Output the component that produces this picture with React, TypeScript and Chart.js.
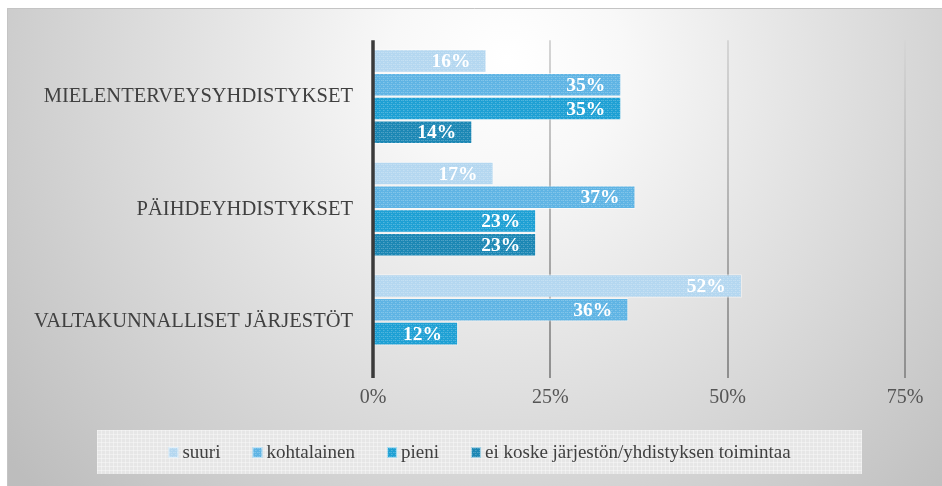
import React, { useEffect, useRef } from "react";
import { Chart, registerables } from "chart.js";
Chart.register(...registerables);

const categories = ["MIELENTERVEYSYHDISTYKSET", "PÄIHDEYHDISTYKSET", "VALTAKUNNALLISET JÄRJESTÖT"];
const seriesNames = ["suuri", "kohtalainen", "pieni", "ei koske järjestön/yhdistyksen toimintaa"];
const suuri = [16, 17, 52];
const kohtalainen = [35, 37, 36];
const pieni = [35, 23, 12];
const eiKoske: (number | null)[] = [14, 23, null];
const xTicks = [0, 25, 50, 75];
const colors = ["#b4d7f0", "#5fb4e4", "#1ea0d4", "#1c87b4"];

const SERIF = "'Liberation Serif', 'Times New Roman', serif";

function hexToRgb(h: string) {
  const n = parseInt(h.slice(1), 16);
  return [(n >> 16) & 255, (n >> 8) & 255, n & 255];
}

function makePattern(base: string): CanvasPattern | string {
  const c = document.createElement("canvas");
  c.width = 4;
  c.height = 4;
  const g = c.getContext("2d");
  if (!g) return base;
  g.fillStyle = base;
  g.fillRect(0, 0, 4, 4);
  const [r, gg, b] = hexToRgb(base);
  const mix = (t: number) =>
    `rgb(${Math.round(r + (255 - r) * t)},${Math.round(gg + (255 - gg) * t)},${Math.round(b + (255 - b) * t)})`;
  g.fillStyle = mix(0.22);
  g.fillRect(0, 0, 1, 1);
  g.fillRect(2, 0, 1, 1);
  g.fillRect(0, 2, 1, 1);
  g.fillStyle = mix(0.12);
  g.fillRect(1, 2, 1, 1);
  g.fillRect(3, 0, 1, 1);
  const p = g.createPattern(c, "repeat");
  return p || base;
}

export default function App() {
  const ref = useRef<HTMLCanvasElement | null>(null);

  useEffect(() => {
    const canvas = ref.current;
    if (!canvas) return;
    const patterns = colors.map((c) => makePattern(c));
    const seriesData = [suuri, kohtalainen, pieni, eiKoske];

    const bgPlugin = {
      id: "bg",
      beforeDraw(chart: any) {
        const { ctx, width, height } = chart;
        ctx.save();
        const grad = ctx.createRadialGradient(500, 50, 0, 500, 50, 640);
        grad.addColorStop(0, "#ffffff");
        grad.addColorStop(0.18, "#f8f8f8");
        grad.addColorStop(1, "#bdbdbd");
        ctx.fillStyle = grad;
        ctx.fillRect(0, 0, width, height);
        ctx.strokeStyle = "#c4c4c4";
        ctx.lineWidth = 1;
        ctx.beginPath();
        ctx.moveTo(0.5, height);
        ctx.lineTo(0.5, 0.5);
        ctx.lineTo(width, 0.5);
        ctx.stroke();
        ctx.restore();
      },
    };

    const gridPlugin = {
      id: "grid",
      beforeDatasetsDraw(chart: any) {
        const { ctx, chartArea, scales } = chart;
        ctx.save();
        const g = ctx.createLinearGradient(0, chartArea.top, 0, chartArea.bottom);
        g.addColorStop(0, "#d6d6d6");
        g.addColorStop(1, "#8e8e8e");
        ctx.strokeStyle = g;
        ctx.lineWidth = 2;
        xTicks.slice(1).forEach((v) => {
          const x = Math.round(scales.x.getPixelForValue(v));
          ctx.beginPath();
          ctx.moveTo(x, chartArea.top);
          ctx.lineTo(x, chartArea.bottom);
          ctx.stroke();
        });
        ctx.restore();
      },
      afterDatasetsDraw(chart: any) {
        const { ctx, chartArea, scales } = chart;
        ctx.save();
        ctx.strokeStyle = "#3a3a3a";
        ctx.lineWidth = 3.5;
        const x = scales.x.getPixelForValue(0);
        ctx.beginPath();
        ctx.moveTo(x, chartArea.top);
        ctx.lineTo(x, chartArea.bottom);
        ctx.stroke();

        ctx.fillStyle = "#ffffff";
        ctx.font = `bold 19.5px ${SERIF}`;
        ctx.textAlign = "right";
        ctx.textBaseline = "middle";
        chart.data.datasets.forEach((ds: any, i: number) => {
          const meta = chart.getDatasetMeta(i);
          meta.data.forEach((el: any, j: number) => {
            const v = ds.data[j];
            if (v === null || v === undefined) return;
            ctx.fillText(v + "%", el.x - 16, el.y + 1);
          });
        });
        ctx.restore();
      },
    };

    const legendPlugin = {
      id: "customLegend",
      afterDraw(chart: any) {
        const { ctx } = chart;
        ctx.save();
        const bx = 90, by = 422, bw = 765, bh = 44;
        ctx.fillStyle = "#e6e6e6";
        ctx.fillRect(bx, by, bw, bh);
        ctx.fillStyle = "rgba(255,255,255,0.35)";
        for (let x = bx; x < bx + bw; x += 4) ctx.fillRect(x, by, 1, bh);
        for (let y = by; y < by + bh; y += 4) ctx.fillRect(bx, y, bw, 1);
        ctx.font = `19px ${SERIF}`;
        ctx.textBaseline = "middle";
        ctx.textAlign = "left";
        const sq = 10, gap = 4, spacing = 32;
        const widths = seriesNames.map((n) => sq + gap + ctx.measureText(n).width);
        const total = widths.reduce((a, b) => a + b, 0) + spacing * (seriesNames.length - 1);
        let x = bx + (bw - total) / 2;
        const cy = by + bh / 2;
        seriesNames.forEach((n, i) => {
          ctx.fillStyle = patterns[i];
          ctx.fillRect(x, cy - 5, sq, 11);
          ctx.strokeStyle = "rgba(255,255,255,0.6)";
          ctx.lineWidth = 1;
          ctx.strokeRect(x + 0.5, cy - 4.5, sq - 1, 10);
          ctx.fillStyle = "#404040";
          ctx.fillText(n, x + sq + gap, cy + 1);
          x += widths[i] + spacing;
        });
        ctx.restore();
      },
    };

    const chart = new Chart(canvas, {
      type: "bar",
      data: {
        labels: categories,
        datasets: seriesNames.map((n, i) => ({
          label: n,
          data: seriesData[i],
          backgroundColor: patterns[i] as any,
          borderColor: "rgba(255,255,255,0.55)",
          borderWidth: 1,
          categoryPercentage: 0.845,
          barPercentage: 0.99,
        })),
      },
      options: {
        indexAxis: "y",
        responsive: false,
        animation: false,
        layout: { padding: { top: 28, right: 37, bottom: 68, left: 0 } },
        plugins: {
          legend: { display: false },
          tooltip: { enabled: false },
        },
        scales: {
          x: {
            min: 0,
            max: 75,
            afterBuildTicks(scale: any) {
              scale.ticks = xTicks.map((v) => ({ value: v }));
            },
            afterFit(scale: any) {
              scale.height = 40;
            },
            ticks: {
              callback: (v: any) => v + "%",
              font: { family: SERIF, size: 20 },
              color: "#555555",
              padding: 8,
            },
            grid: { display: false, drawTicks: false },
            border: { display: false },
          },
          y: {
            afterFit(scale: any) {
              scale.width = 366;
            },
            ticks: {
              font: { family: SERIF, size: 20.5 },
              color: "#404040",
              padding: 20,
            },
            grid: { display: false, drawTicks: false },
            border: { display: false },
          },
        },
      },
      plugins: [bgPlugin, gridPlugin, legendPlugin],
    } as any);
    return () => chart.destroy();
  }, []);

  return (
    <div style={{ position: "fixed", left: 7, top: 8, width: 935, height: 478 }}>
      <canvas ref={ref} width={935} height={478} style={{ display: "block", width: 935, height: 478 }} />
    </div>
  );
}
